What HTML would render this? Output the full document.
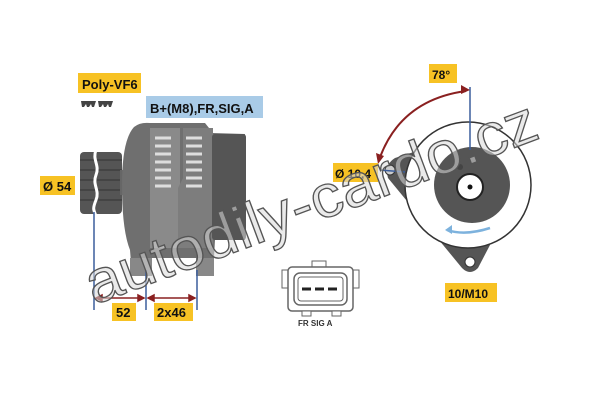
<!DOCTYPE html>
<html><head><meta charset="utf-8"><style>html,body{margin:0;padding:0;background:#fff}svg{display:block}</style></head>
<body>
<svg width="600" height="400" viewBox="0 0 600 400" xmlns="http://www.w3.org/2000/svg" font-family="Liberation Sans, sans-serif" font-weight="bold">
<rect width="600" height="400" fill="#fff"/>
<rect x="78" y="73" width="63" height="20" fill="#f7c224"/>
<text x="82" y="89" font-size="13" fill="#111">Poly-VF6</text>
<path d="M81 101h15l-2 6h-2l-1-3-2 3h-2l-1-3-2 3h-2zM98 101h15l-2 6h-2l-1-3-2 3h-2l-1-3-2 3h-2z" fill="#444"/>
<rect x="146" y="96" width="117" height="22" fill="#a9cbe7"/>
<text x="150" y="113" font-size="13" fill="#111">B+(M8),FR,SIG,A</text>
<rect x="80" y="152" width="42" height="62" rx="4" fill="#555"/>
<path d="M80 160h42M80 170h42M80 180h42M80 190h42M80 200h42" stroke="#444" stroke-width="2"/>
<path d="M96 150c-4 10 4 15 0 25s4 15 0 25-2 10 0 16" stroke="#fff" stroke-width="3" fill="none"/>
<rect x="120" y="170" width="6" height="25" fill="#666"/>
<path d="M134 127 Q140 122 150 123 L205 123 L213 133 L245 134 L245 240 L215 240 L213 275 L198 276 L198 258 L150 258 L150 275 L132 275 L130 250 Q122 230 122 185 Q122 140 134 127Z" fill="#6f6f6f"/>
<path d="M150 128 h30 v120 h-30z" fill="#8a8a8a"/>
<path d="M183 128 h30 v120 h-35 v-60 l5-10z" fill="#7d7d7d"/>
<rect x="212" y="134" width="34" height="106" rx="3" fill="#555"/>
<g stroke="#ddd" stroke-width="3">
<path d="M155 138h16M155 146h16M155 154h16M155 162h16M155 170h16M155 178h16M155 186h16"/>
<path d="M186 138h16M186 146h16M186 154h16M186 162h16M186 170h16M186 178h16M186 186h16"/>
</g>
<rect x="130" y="258" width="22" height="18" fill="#888"/>
<rect x="196" y="258" width="18" height="18" fill="#888"/>
<rect x="40" y="176" width="35" height="19" fill="#f7c224"/>
<text x="43" y="191" font-size="13" fill="#111">Ø 54</text>
<g stroke="#3a5d9c" stroke-width="1.5"><line x1="94" y1="212" x2="94" y2="310"/><line x1="146" y1="270" x2="146" y2="310"/><line x1="197" y1="270" x2="197" y2="310"/></g>
<g stroke="#8a2020" stroke-width="1.5" fill="#8a2020"><line x1="96" y1="298" x2="144" y2="298"/><line x1="148" y1="298" x2="195" y2="298"/>
<path d="M96 298l6-3v6zM144 298l-6-3v6zM148 298l6-3v6zM195 298l-6-3v6z"/></g>
<rect x="112" y="303" width="24" height="18" fill="#f7c224"/><text x="116" y="317" font-size="13" fill="#111">52</text>
<rect x="154" y="303" width="39" height="18" fill="#f7c224"/><text x="157" y="317" font-size="13" fill="#111">2x46</text>
<rect x="282" y="270" width="7" height="18" fill="#fff" stroke="#666"/>
<rect x="352" y="270" width="7" height="18" fill="#fff" stroke="#666"/>
<rect x="312" y="261" width="14" height="8" fill="#fff" stroke="#666"/>
<rect x="288" y="267" width="65" height="44" rx="4" fill="#fff" stroke="#666" stroke-width="1.5"/>
<rect x="294" y="273" width="53" height="32" rx="6" fill="#fff" stroke="#666" stroke-width="1.5"/>
<rect x="298" y="277" width="45" height="24" rx="3" fill="#fff" stroke="#666"/>
<g stroke="#222" stroke-width="3"><path d="M302 289h9M315 289h9M328 289h9"/></g>
<rect x="302" y="311" width="9" height="5" fill="#fff" stroke="#666"/><rect x="332" y="311" width="9" height="5" fill="#fff" stroke="#666"/>
<text x="298" y="326" font-size="8" fill="#333">FR SIG  A</text>
<path d="M395 158 Q384 165 388 178 L462 268 Q470 276 478 268 L490 245 L420 150Z" fill="#555"/>
<circle cx="390" cy="170" r="5" fill="#ccc" stroke="#333"/>
<circle cx="470" cy="262" r="5" fill="#fff" stroke="#333"/>
<circle cx="468" cy="185" r="63" fill="#fff" stroke="#333" stroke-width="1.5"/>
<circle cx="472" cy="185" r="38" fill="#555"/>
<circle cx="470" cy="187" r="13" fill="#fff" stroke="#222" stroke-width="2"/>
<circle cx="470" cy="187" r="2.5" fill="#111"/>
<circle cx="460" cy="167" r="3" fill="#444"/>
<path d="M447 230 Q465 236 490 228" stroke="#7db2dd" stroke-width="2.5" fill="none"/>
<path d="M445 230l7-5v9z" fill="#7db2dd"/>
<line x1="470" y1="87" x2="470" y2="150" stroke="#3a5d9c" stroke-width="1.5"/>
<path d="M466 91 Q400 100 379 160" stroke="#8a2020" stroke-width="2" fill="none"/>
<path d="M470 90l-9-5v9zM378 164l-2-11 8 3z" fill="#8a2020"/>
<line x1="380" y1="170" x2="405" y2="172" stroke="#3a5d9c" stroke-width="1.5"/>
<rect x="429" y="64" width="28" height="19" fill="#f7c224"/><text x="432" y="79" font-size="12" fill="#111">78°</text>
<rect x="333" y="163" width="45" height="19" fill="#f7c224"/><text x="335" y="178" font-size="12" fill="#111">Ø 10,4</text>
<rect x="445" y="283" width="52" height="19" fill="#f7c224"/><text x="448" y="298" font-size="12" fill="#111">10/M10</text>
<text x="0" y="0" transform="translate(94,305) rotate(-20.5)" font-size="60" font-weight="normal" fill="#d8d8d8" fill-opacity="0.55" stroke="#555" stroke-width="1.3" textLength="478" lengthAdjust="spacingAndGlyphs">autodily-cardo.cz</text>
</svg>
</body></html>
